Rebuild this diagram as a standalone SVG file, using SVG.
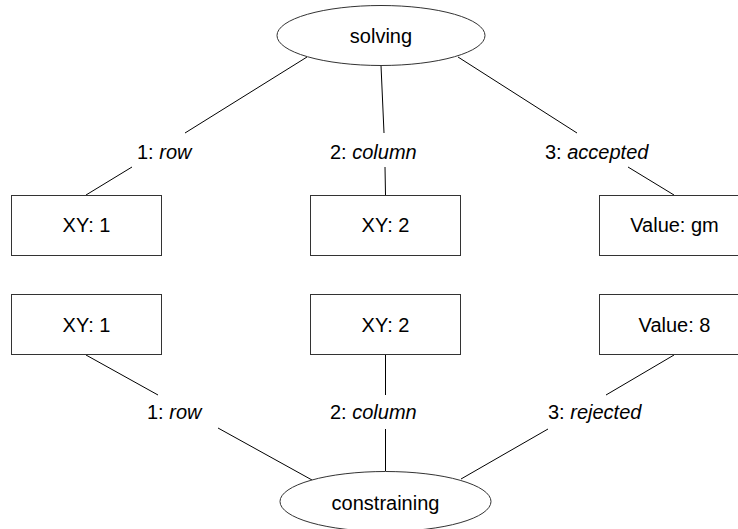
<svg xmlns="http://www.w3.org/2000/svg" width="738" height="529" viewBox="0 0 738 529">
<style>
.n{fill:#fff;stroke:#333;stroke-width:1}
.t{font-family:"Liberation Sans",Arial,sans-serif;font-size:20px;fill:#000;text-anchor:middle}
.l{font-family:"Liberation Sans",Arial,sans-serif;font-size:20px;fill:#000}
.c{stroke:#000;stroke-width:1;fill:none}
</style>
<rect width="738" height="529" fill="#fff"/>
<g id="connectors">
<path class="c" d="M307,57 L185,133 M132,167 L86,195"/>
<path class="c" d="M381,65.5 L384,133 M385,167 L385.5,195"/>
<path class="c" d="M458,57 L577,133 M628,167 L674,195"/>
<path class="c" d="M86,355 L158,395 M218,428 L312,480"/>
<path class="c" d="M385.5,355 L385.5,395 M385.5,429 L385.5,471"/>
<path class="c" d="M674,355 L606,395 M548,429 L461,479"/>
<text class="l" x="137" y="159">1: <tspan font-style="italic">row</tspan></text>
<text class="l" x="330" y="159">2: <tspan font-style="italic">column</tspan></text>
<text class="l" x="545" y="159">3: <tspan font-style="italic">accepted</tspan></text>
<text class="l" x="147" y="419">1: <tspan font-style="italic">row</tspan></text>
<text class="l" x="330" y="419">2: <tspan font-style="italic">column</tspan></text>
<text class="l" x="548" y="419">3: <tspan font-style="italic">rejected</tspan></text>
</g>
<g id="solving">
<ellipse class="n" cx="381" cy="35.5" rx="104" ry="30"/>
<text class="t" x="381" y="42.5">solving</text>
</g>
<g id="xy1-top">
<rect class="n" x="11.5" y="195.5" width="150" height="60"/>
<text class="t" x="86.5" y="232">XY: 1</text>
</g>
<g id="xy2-top">
<rect class="n" x="310.5" y="195.5" width="150" height="60"/>
<text class="t" x="385.5" y="232">XY: 2</text>
</g>
<g id="value-gm">
<rect class="n" x="599.5" y="195.5" width="150" height="60"/>
<text class="t" x="674.5" y="232">Value: gm</text>
</g>
<g id="xy1-bottom">
<rect class="n" x="11.5" y="294.5" width="150" height="60"/>
<text class="t" x="86.5" y="331.5">XY: 1</text>
</g>
<g id="xy2-bottom">
<rect class="n" x="310.5" y="294.5" width="150" height="60"/>
<text class="t" x="385.5" y="331.5">XY: 2</text>
</g>
<g id="value-8">
<rect class="n" x="599.5" y="294.5" width="150" height="60"/>
<text class="t" x="674.5" y="331.5">Value: 8</text>
</g>
<g id="constraining">
<ellipse class="n" cx="385.5" cy="501.5" rx="105.5" ry="30"/>
<text class="t" x="385.5" y="509.5">constraining</text>
</g>
</svg>
